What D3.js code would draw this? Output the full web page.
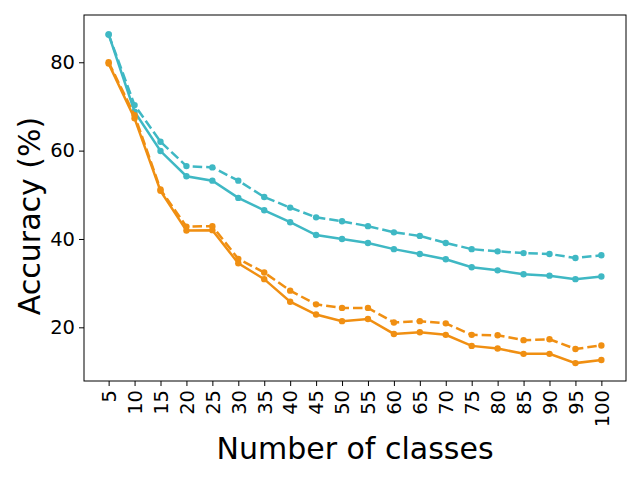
<!DOCTYPE html>
<html><head><meta charset="utf-8">
<script src="https://cdn.jsdelivr.net/npm/d3@7"></script>
<style>body{margin:0;background:#fff}svg{display:block}text{font-family:"DejaVu Sans",sans-serif;fill:#000}</style>
</head><body><svg id="c" width="640" height="480"></svg>
<script>
const classes = [5,10,15,20,25,30,35,40,45,50,55,60,65,70,75,80,85,90,95,100];
const tealSolid  = [86.3,68.8,59.9,54.2,53.2,49.3,46.5,43.8,40.9,40.0,39.1,37.7,36.6,35.4,33.6,32.9,32.0,31.7,30.9,31.5];
const tealDashed = [86.3,70.3,62.0,56.5,56.2,53.2,49.5,47.1,44.9,44.0,42.9,41.5,40.7,39.1,37.7,37.2,36.8,36.6,35.7,36.3];
const orangeSolid  = [79.7,67.3,50.9,41.9,42.0,34.5,30.9,25.8,22.9,21.4,21.9,18.5,18.9,18.3,15.8,15.2,14.0,14.0,11.9,12.6];
const orangeDashed = [80.0,68.0,51.2,42.8,42.9,35.5,32.4,28.3,25.2,24.4,24.4,21.1,21.4,20.9,18.3,18.2,17.1,17.3,15.1,15.9];
const yTicks = [20,40,60,80];

const L=84,R=626,T=15,B=381;
const svg=d3.select("#c");
const x=d3.scaleLinear().domain([0.25,104.75]).range([L,R]);
const y=d3.scaleLinear().domain([7.85,90.7]).range([B,T]);

const series=[
 {v:tealSolid,c:"#3fb8c4",d:null},
 {v:tealDashed,c:"#3fb8c4",d:"9.5,4"},
 {v:orangeSolid,c:"#f08f12",d:null},
 {v:orangeDashed,c:"#f08f12",d:"9.5,4"}
];
const line=d3.line().x((d,i)=>x(classes[i])).y(d=>y(d));
series.forEach(s=>{
  svg.append("path").attr("d",line(s.v)).attr("fill","none").attr("stroke",s.c)
    .attr("stroke-width",2.5).attr("stroke-dasharray",s.d);
  svg.selectAll(null).data(s.v).enter().append("circle")
    .attr("cx",(d,i)=>x(classes[i])).attr("cy",d=>y(d)).attr("r",3.2).attr("fill",s.c);
});

// axes
const xa=svg.append("g").attr("transform",`translate(0,${B})`)
  .call(d3.axisBottom(x).tickValues(classes).tickSize(5).tickPadding(4).tickSizeOuter(0));
xa.selectAll("text").attr("font-size","19.5px").attr("transform","rotate(-90)")
  .attr("text-anchor","end").attr("dy","0.35em").attr("x",-9).attr("y",0);
const ya=svg.append("g").attr("transform",`translate(${L},0)`)
  .call(d3.axisLeft(y).tickValues(yTicks).tickSize(5).tickPadding(4).tickSizeOuter(0));
ya.selectAll("text").attr("font-size","19.5px");
svg.selectAll(".domain").remove();
svg.selectAll(".tick line").attr("stroke","#000").attr("stroke-width",1);
svg.append("rect").attr("x",L).attr("y",T).attr("width",R-L).attr("height",B-T)
  .attr("fill","none").attr("stroke","#000").attr("stroke-width",1);

svg.append("text").attr("x",(L+R)/2).attr("y",459).attr("text-anchor","middle")
  .attr("font-size","30px").text("Number of classes");
svg.append("text").attr("transform",`translate(40,216) rotate(-90)`)
  .attr("text-anchor","middle").attr("font-size","30px").text("Accuracy (%)");
</script></body></html>
